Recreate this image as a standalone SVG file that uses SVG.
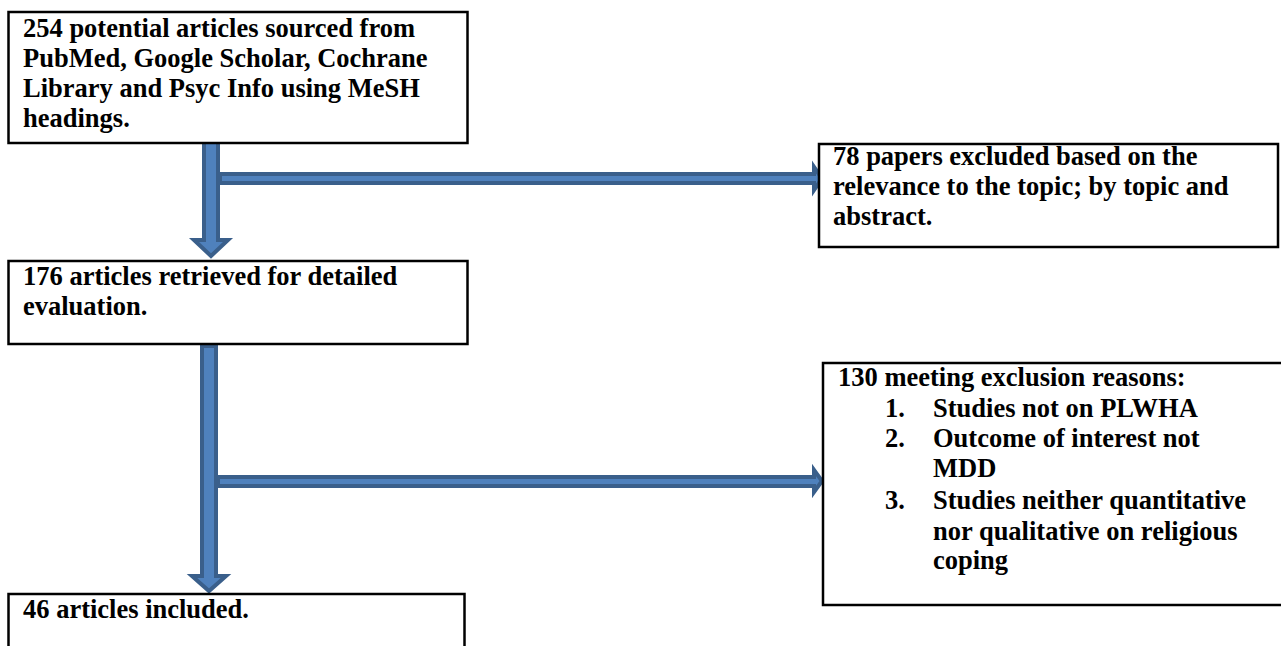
<svg xmlns="http://www.w3.org/2000/svg" width="1281" height="646" viewBox="0 0 1281 646">
<style>
.box{fill:#fff;stroke:#000;stroke-width:2.5}
.t{font-family:"Liberation Serif","Times New Roman",serif;font-weight:bold;font-size:26.5px;fill:#000}
.arr{fill:#4F81BD;stroke:#3A5F8B;stroke-width:4;stroke-linejoin:miter}
</style>
<rect width="1281" height="646" fill="#fff"/>
<g id="connectors">
<polygon class="arr" points="220,174 814,174 814,167 822,178.5 814,190 814,183 220,183"/>
<polygon class="arr" points="204,142 218,142 218,240 228,240 211,256 194,240 204,240"/>
<polygon class="arr" points="218,477 814,477 814,470 822,481 814,492 814,486 218,486"/>
<polygon class="arr" points="202,346 216,346 216,576 226,576 209,591 192,576 202,576"/>
</g>
<g id="node1">
<rect class="box" x="8.5" y="12" width="459" height="131"/>
<text class="t" x="23" y="37">254 potential articles sourced from</text>
<text class="t" x="23" y="67">PubMed, Google Scholar, Cochrane</text>
<text class="t" x="23" y="97">Library and Psyc Info using MeSH</text>
<text class="t" x="23" y="127">headings.</text>
</g>
<g id="node2">
<rect class="box" x="819" y="144" width="459" height="103"/>
<text class="t" x="833" y="165">78 papers excluded based on the</text>
<text class="t" x="833" y="195">relevance to the topic; by topic and</text>
<text class="t" x="833" y="225">abstract.</text>
</g>
<g id="node3">
<rect class="box" x="8.5" y="261" width="459" height="83"/>
<text class="t" x="23" y="285">176 articles retrieved for detailed</text>
<text class="t" x="23" y="315">evaluation.</text>
</g>
<g id="node4">
<rect class="box" x="823" y="363" width="462" height="242"/>
<text class="t" x="838" y="386">130 meeting exclusion reasons:</text>
<text class="t" x="885" y="417">1.</text>
<text class="t" x="933" y="417">Studies not on PLWHA</text>
<text class="t" x="885" y="447">2.</text>
<text class="t" x="933" y="447">Outcome of interest not</text>
<text class="t" x="933" y="477">MDD</text>
<text class="t" x="885" y="509">3.</text>
<text class="t" x="933" y="509">Studies neither quantitative</text>
<text class="t" x="933" y="540">nor qualitative on religious</text>
<text class="t" x="933" y="569">coping</text>
</g>
<g id="node5">
<rect class="box" x="8.5" y="594" width="456" height="70"/>
<text class="t" x="23" y="618">46 articles included.</text>
</g>
</svg>
